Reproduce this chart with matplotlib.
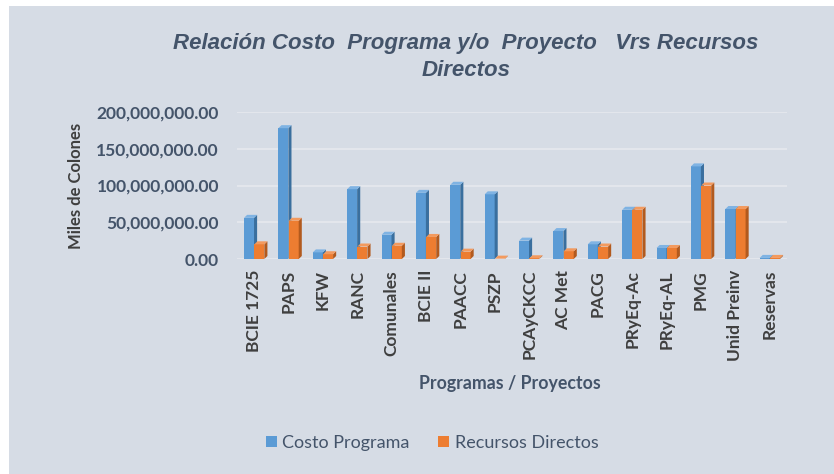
import matplotlib.pyplot as plt
from matplotlib.patches import Polygon, Rectangle
from matplotlib.ticker import FuncFormatter

# datos (colones)
categorias = ['BCIE 1725', 'PAPS', 'KFW', 'RANC', 'Comunales', 'BCIE II', 'PAACC', 'PSZP',
              'PCAyCKCC', 'AC Met', 'PACG', 'PRyEq-Ac', 'PRyEq-AL', 'PMG', 'Unid Preinv', 'Reservas']
costo_programa = [56e6, 178e6, 9e6, 95e6, 33e6, 90e6, 101e6, 88e6,
                  25e6, 38e6, 20e6, 67e6, 15e6, 126e6, 68e6, 1.5e6]
recursos_directos = [20e6, 52e6, 6.5e6, 17e6, 18e6, 30e6, 10e6, 0.5e6,
                     1e6, 10.5e6, 17e6, 67e6, 15e6, 100e6, 68e6, 1.5e6]

azul = '#5B9BD5'
naranja = '#ED7D31'
texto = '#44546A'
fondo = '#D6DCE5'

fig = plt.figure(figsize=(8.34, 4.74), dpi=100)
fig.patch.set_facecolor('white')
fig.patches.append(Rectangle((9 / 834, 0), 1, 1 - 6 / 474, transform=fig.transFigure,
                             facecolor=fondo, edgecolor='none', zorder=-10))

ax = fig.add_axes([237 / 834, 1 - 259 / 474, 550 / 834, 147 / 474])
ax.set_facecolor('none')
for s in ax.spines.values():
    s.set_visible(False)

ax.set_xlim(-0.5, len(categorias) - 0.5)
ax.set_ylim(0, 200e6)
ax.set_yticks([0, 50e6, 100e6, 150e6, 200e6])
ax.yaxis.set_major_formatter(FuncFormatter(lambda v, p: f'{v:,.2f}'))
ax.grid(axis='y', color='#E6E9EE', linewidth=1.2)
ax.set_axisbelow(True)

ancho = 0.29
dx = 0.09           # profundidad lateral (unidades x)
dy = 200e6 / 147 * 3  # profundidad superior (3 px)


def barra3d(x, h, color, oscuro, claro):
    ax.bar(x, h, width=ancho, color=color, edgecolor='none', zorder=3)
    x0, x1 = x - ancho / 2, x + ancho / 2
    ax.add_patch(Polygon([(x1, 0), (x1 + dx, dy), (x1 + dx, h + dy), (x1, h)],
                         closed=True, facecolor=oscuro, edgecolor='none', zorder=3))
    ax.add_patch(Polygon([(x0, h), (x0 + dx, h + dy), (x1 + dx, h + dy), (x1, h)],
                         closed=True, facecolor=claro, edgecolor='none', zorder=3))


for i, (c, r) in enumerate(zip(costo_programa, recursos_directos)):
    barra3d(i - 0.15, c, azul, '#3A6F9E', '#7FB3E3')
    barra3d(i + 0.15, r, naranja, '#B25A1E', '#F39A5E')

ax.set_xticks(range(len(categorias)))
ax.set_xticklabels(categorias, rotation=90, fontsize=12.5, fontweight='bold',
                   color='#3F3F3F', family='Lato')
ax.tick_params(axis='both', length=0)
ax.tick_params(axis='x', pad=8)
for t in ax.get_yticklabels():
    t.set_fontsize(12.5)
    t.set_color(texto)
    t.set_family('Lato')
    t.set_fontweight('bold')
ax.tick_params(axis='y', pad=13)

ax.set_ylabel('Miles de Colones', fontsize=12, fontweight='bold', color='#3F3F3F',
              family='Lato', labelpad=9)
fig.text(510 / 834, 1 - 383 / 474, 'Programas / Proyectos', ha='center', va='center',
         fontsize=12.8, fontweight='bold', color=texto, family='Lato')

fig.text(466 / 834, 1 - 43 / 474, 'Relación Costo  Programa y/o  Proyecto   Vrs Recursos',
         ha='center', va='center', fontsize=16, fontweight='bold', fontstyle='italic',
         color=texto, family='Liberation Sans')
fig.text(466 / 834, 1 - 70 / 474, 'Directos', ha='center', va='center', fontsize=16,
         fontweight='bold', fontstyle='italic', color=texto, family='Liberation Sans')

h1 = Rectangle((0, 0), 1, 1, facecolor=azul)
h2 = Rectangle((0, 0), 1, 1, facecolor=naranja)
fig.legend([h1, h2], ['Costo Programa', 'Recursos Directos'], loc='center',
           bbox_to_anchor=(432 / 834, 1 - 443 / 474), ncol=2, frameon=False,
           prop={'family': 'Lato', 'size': 13}, labelcolor=texto,
           handlelength=0.6, handleheight=0.6, handletextpad=0.3, columnspacing=1.6)

fig.savefig('out.png', dpi=100, facecolor=fig.get_facecolor())
